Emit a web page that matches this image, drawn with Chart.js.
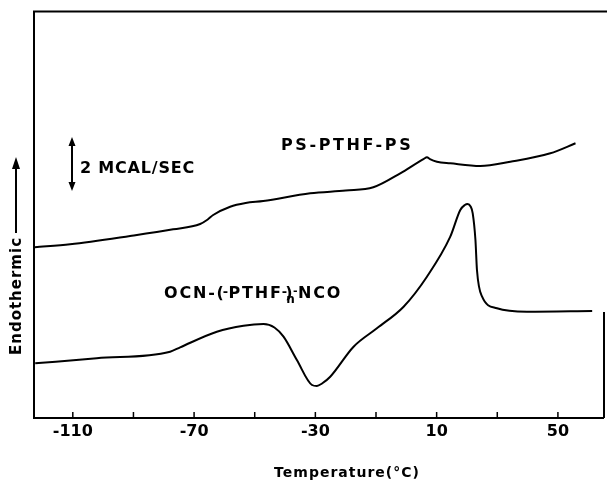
<!DOCTYPE html>
<html>
<head>
<meta charset="utf-8">
<script src="https://cdn.jsdelivr.net/npm/chart.js@4"></script>
<style>
html,body{margin:0;padding:0;background:#fff;}
canvas{display:block;}
</style>
</head>
<body>
<canvas id="c" width="607" height="483"></canvas>
<script>
// Temperature (°C) and relative heat-flow signal (arbitrary units)
const upperTemps  = [-122.5, -110.9, -91.1, -76.9, -68.0, -65.5, -63.7, -58.1, -53.0, -47.2, -31.7, -20.0, -10.9, -2.0, 5.8, 6.8, 7.8, 10.1, 14.5, 24.4, 34.3, 47.5, 55.8];
const upperValues = [170.7, 173.7, 182.0, 188.7, 194.0, 198.5, 203.0, 211.3, 215.0, 217.0, 224.7, 227.5, 230.7, 244.7, 259.2, 260.7, 258.8, 256.3, 254.7, 252.0, 256.3, 264.7, 274.7];

const lowerTemps  = [-122.4, -102.1, -77.9, -74.6, -62.5, -53.7, -47.1, -43.5, -40.5, -36.1, -31.1, -29.5, -27.8, -25.1, -17.4, -9.7, -0.9, 6.8, 14.5, 17.8, 19.3, 20.2, 21.2, 21.9, 22.8, 23.3, 25.0, 29.9, 39.8, 61.3];
const lowerValues = [54.7, 59.7, 66.3, 70.7, 86.3, 92.3, 94.0, 90.5, 81.3, 58.0, 33.0, 32.0, 34.5, 41.3, 71.3, 89.7, 111.3, 141.3, 181.3, 208.0, 213.0, 214.0, 211.5, 204.7, 178.0, 148.0, 121.3, 109.7, 106.3, 107.0];

const tickValues  = [-110, -90, -70, -50, -30, -10, 10, 30, 50];
const labelValues = [-110, -70, -30, 10, 50];

const seriesNames = ['PS-PTHF-PS', 'OCN-(-PTHF-)n-NCO'];

const toPoints = (xs, ys) => xs.map((x, i) => ({x: x, y: ys[i]}));

function drawSpaced(ctx, text, x, y, font, ls) {
  ctx.font = font;
  ctx.letterSpacing = ls + 'px';
  ctx.fillText(text, x, y);
  return ctx.measureText(text).width;
}

const annotations = {
  id: 'annotations',
  afterDraw(chart) {
    const ctx = chart.ctx;
    const a = chart.chartArea;
    const xs = chart.scales.x;
    ctx.save();
    ctx.strokeStyle = '#000';
    ctx.fillStyle = '#000';
    ctx.lineWidth = 2;
    ctx.lineCap = 'butt';
    // frame
    ctx.beginPath();
    ctx.moveTo(a.left, a.top - 1);
    ctx.lineTo(a.left, a.bottom);
    ctx.lineTo(a.right, a.bottom);
    ctx.moveTo(a.left - 1, a.top - 0.5);
    ctx.lineTo(chart.width, a.top - 0.5);
    ctx.moveTo(a.right, 312);
    ctx.lineTo(a.right, a.bottom);
    ctx.stroke();
    // inward ticks
    ctx.lineWidth = 1.5;
    ctx.beginPath();
    xs.ticks.forEach(t => {
      const px = xs.getPixelForValue(t.value);
      ctx.moveTo(px, a.bottom);
      ctx.lineTo(px, a.bottom - 6);
    });
    ctx.stroke();

    // scale bar double arrow
    ctx.lineWidth = 2;
    ctx.beginPath();
    ctx.moveTo(72, 144); ctx.lineTo(72, 184);
    ctx.stroke();
    ctx.beginPath();
    ctx.moveTo(72, 137); ctx.lineTo(68.5, 146); ctx.lineTo(75.5, 146); ctx.closePath();
    ctx.moveTo(72, 191); ctx.lineTo(68.5, 182); ctx.lineTo(75.5, 182); ctx.closePath();
    ctx.fill();

    ctx.textBaseline = 'middle';
    ctx.textAlign = 'left';
    drawSpaced(ctx, '2 MCAL/SEC', 80, 169, 'bold 16px "DejaVu Sans"', 0.8);
    drawSpaced(ctx, seriesNames[0], 281, 146, 'bold 16px "DejaVu Sans"', 2.6);

    // lower label with subscript n
    const f = 'bold 16px "DejaVu Sans"';
    let x = 164;
    const y = 294;
    x += drawSpaced(ctx, 'OCN-(', x, y, f, 1.8);
    x -= 3;
    x += drawSpaced(ctx, '-', x, y - 1, 'bold 13px "DejaVu Sans"', 0.5);
    x += drawSpaced(ctx, 'PTHF', x, y, f, 1.8);
    x -= 1;
    x += drawSpaced(ctx, '-', x, y - 1, 'bold 13px "DejaVu Sans"', 0);
    x -= 2;
    const px0 = x;
    x += drawSpaced(ctx, ')', x, y, f, 0);
    drawSpaced(ctx, 'n', px0 + 1, y + 6, 'bold 12px "DejaVu Sans"', 0);
    x += 0.5;
    x += drawSpaced(ctx, '-', x, y - 3, 'bold 11px "DejaVu Sans"', 0.5);
    drawSpaced(ctx, 'NCO', x, y, f, 1.8);

    // x title
    ctx.textAlign = 'center';
    ctx.textBaseline = 'alphabetic';
    drawSpaced(ctx, 'Temperature(°C)', 347, 477, 'bold 14px "DejaVu Sans"', 1);

    // y title rotated with arrow
    ctx.save();
    ctx.translate(17, 296);
    ctx.rotate(-Math.PI / 2);
    ctx.textAlign = 'center';
    ctx.textBaseline = 'middle';
    drawSpaced(ctx, 'Endothermic', 0, 0, 'bold 15px "DejaVu Sans"', 1);
    ctx.restore();
    ctx.lineWidth = 2;
    ctx.beginPath();
    ctx.moveTo(16, 233); ctx.lineTo(16, 166);
    ctx.stroke();
    ctx.beginPath();
    ctx.moveTo(16, 157); ctx.lineTo(12, 169); ctx.lineTo(20, 169); ctx.closePath();
    ctx.fill();

    ctx.restore();
  }
};

new Chart(document.getElementById('c'), {
  type: 'line',
  data: {
    datasets: [
      {label: seriesNames[0], data: toPoints(upperTemps, upperValues)},
      {label: seriesNames[1], data: toPoints(lowerTemps, lowerValues)}
    ].map(d => Object.assign(d, {
      borderColor: '#000', borderWidth: 2, pointRadius: 0, fill: false,
      cubicInterpolationMode: 'monotone'
    }))
  },
  options: {
    responsive: false,
    animation: false,
    devicePixelRatio: 1,
    layout: {padding: {left: 34, right: 3, top: 12, bottom: 0}},
    plugins: {legend: {display: false}, tooltip: {enabled: false}},
    scales: {
      x: {
        type: 'linear',
        min: -122.8, max: 65.2,
        afterBuildTicks: s => { s.ticks = tickValues.map(v => ({value: v})); },
        afterFit: s => { s.height = 65; },
        grid: {display: false, drawTicks: false},
        border: {display: false},
        ticks: {
          autoSkip: false, maxRotation: 0, padding: 4, color: '#000',
          font: {family: 'DejaVu Sans', size: 16, weight: 'bold'},
          callback: v => labelValues.includes(v) ? String(v) : ''
        }
      },
      y: {display: false, min: 0, max: 406}
    }
  },
  plugins: [annotations]
});
</script>
</body>
</html>
